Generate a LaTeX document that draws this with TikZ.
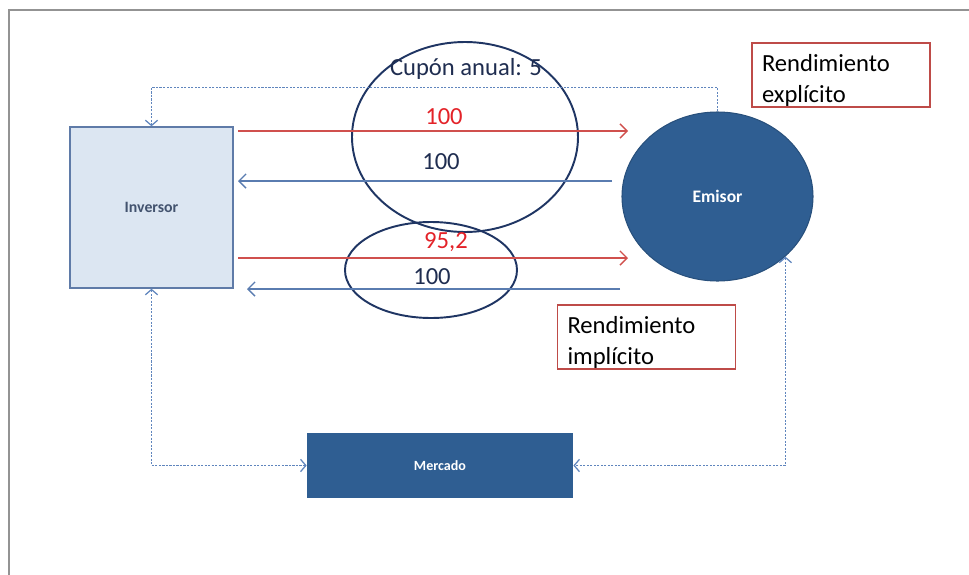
\documentclass[tikz,border=0pt]{standalone}
\usepackage{fontspec}
\setmainfont{Carlito}
\usetikzlibrary{arrows.meta,positioning,shapes.geometric,calc}
\definecolor{invfill}{HTML}{DCE6F2}
\definecolor{invline}{HTML}{5F7BA8}
\definecolor{invtext}{HTML}{43536F}
\definecolor{navy}{HTML}{2F5E92}
\definecolor{bubble}{HTML}{1F3563}
\definecolor{boxred}{HTML}{BE4B48}
\definecolor{payred}{HTML}{D0504D}
\definecolor{txtred}{HTML}{E32228}
\definecolor{retblue}{HTML}{5A7CB0}
\definecolor{dotblue}{HTML}{5F85BD}
\definecolor{darktxt}{HTML}{1F2D50}
\tikzstyle{invnode} = [rectangle, draw=invline, fill=invfill, line width=0.8pt,
    minimum width=32.6mm, minimum height=32.2mm, text=invtext, font=\fontsize{9}{11}\selectfont\bfseries]
\tikzstyle{emisornode} = [ellipse, draw=navy!85!black, fill=navy, line width=0.6pt,
    minimum width=38.2mm, minimum height=33.8mm, text=white, font=\fontsize{10}{12}\selectfont\bfseries]
\tikzstyle{mercadonode} = [rectangle, fill=navy, minimum width=53.2mm, minimum height=13mm,
    text=white, font=\fontsize{8}{10}\selectfont\bfseries]
\tikzstyle{bubblenode} = [ellipse, draw=bubble, line width=1.1pt, inner sep=0pt]
\tikzstyle{notebox} = [rectangle, draw=boxred, line width=1.1pt, text width=31.6mm, align=left,
    inner xsep=2mm, inner ysep=0pt, minimum height=12.8mm, font=\fontsize{14}{18}\selectfont]
\tikzstyle{redtext} = [text=txtred, font=\fontsize{14}{17}\selectfont]
\tikzstyle{darktext} = [text=darktxt, font=\fontsize{14}{17}\selectfont]
\tikzstyle{payline} = [draw=payred, line width=0.8pt, -{Straight Barb[length=4pt,width=8pt]}]
\tikzstyle{retline} = [draw=retblue, line width=0.8pt, -{Straight Barb[length=4pt,width=8pt]}]
\tikzstyle{dotline} = [draw=dotblue, dash pattern=on 1.2pt off 0.8pt, line width=0.7pt,
    -{Straight Barb[length=3pt,width=7pt]}]
\tikzstyle{dotboth} = [dotline, {Straight Barb[length=3pt,width=7pt]}-{Straight Barb[length=3pt,width=7pt]}]

\begin{document}
\begin{tikzpicture}[x=0.2mm, y=-0.2mm]
    \useasboundingbox (0,0) rectangle (969,575);
    \draw [gray!85, line width=1.2pt] (969,10) -| (9,575);

    % Place nodes
    \node [invnode]     (inversor) at (151.5,207.5) {Inversor};
    \node [emisornode]  (emisor)   at (717.5,196.5) {Emisor};
    \node [mercadonode] (mercado)  at (440,465.5)   {Mercado};

    \node [bubblenode, minimum width=45.2mm, minimum height=38mm] (bigbubble)   at (465,137) {};
    \node [bubblenode, minimum width=34.4mm, minimum height=19.2mm] (smallbubble) at (431,270) {};

    \node [darktext] (cupon) at (466,69) {Cupón anual: 5};
    \node [notebox] (explicito) at (841,75)    {\rule{0pt}{16pt}Rendimiento\\explícito};
    \node [notebox] (implicito) at (646.5,337) {\rule{0pt}{16pt}Rendimiento\\implícito};

    \coordinate (pay1a) at (238,131); \coordinate (pay1b) at (628,131);
    \coordinate (ret1a) at (612,181); \coordinate (ret1b) at (238,181);
    \coordinate (pay2a) at (238,258); \coordinate (pay2b) at (628,258);
    \coordinate (ret2a) at (620,289); \coordinate (ret2b) at (247,289);

    \path [payline] (pay1a) -- (pay1b);
    \path [retline] (ret1a) -- (ret1b);
    \path [payline] (pay2a) -- (pay2b);
    \path [retline] (ret2a) -- (ret2b);

    \node [redtext]  (precio1)  at (444,117) {100};
    \node [darktext] (nominal1) at (441,162) {100};
    \node [redtext]  (precio2)  at (446,242) {95,2};
    \node [darktext] (nominal2) at (432,277) {100};

    \path [dotline] (emisor.north) -- ++(0,-24) -| (inversor.north);
    \path [dotboth] (inversor.south) |- (mercado.west);
    \path [dotboth] (emisor.south east) |- (mercado.east);
\end{tikzpicture}
\end{document}
